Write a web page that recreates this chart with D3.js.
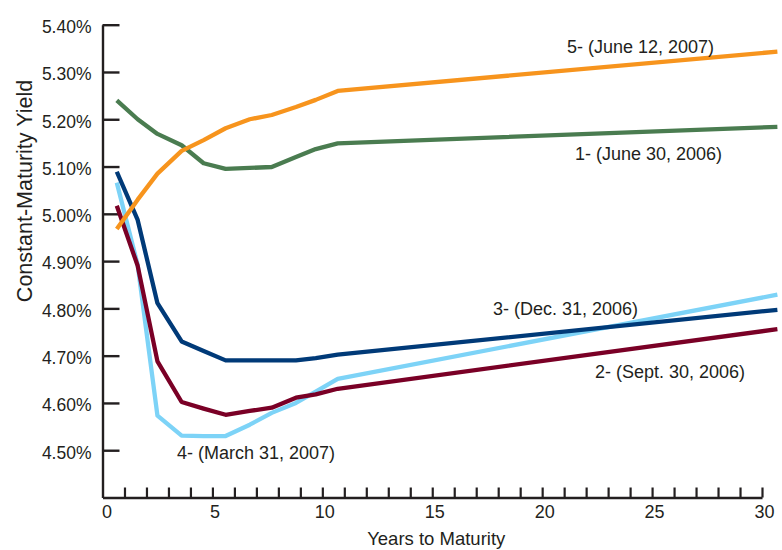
<!DOCTYPE html>
<html>
<head>
<meta charset="utf-8">
<script src="https://cdn.jsdelivr.net/npm/d3@7"></script>
<style>
  html, body { margin: 0; padding: 0; background: #ffffff; }
  svg { display: block; font-family: "Liberation Sans", Arial, sans-serif; }
</style>
</head>
<body>
<svg id="chart" width="782" height="550"></svg>
<script>
// ---- data ----
const maturities = [0.65, 1.6, 2.5, 3.6, 4.6, 5.6, 6.7, 7.7, 8.8, 9.7, 10.7, 30.7];

const june2006  = [5.240, 5.200, 5.169, 5.145, 5.107, 5.095, 5.097, 5.099, 5.120, 5.137, 5.149, 5.184];
const sept2006  = [5.017, 4.890, 4.688, 4.602, 4.588, 4.575, 4.583, 4.590, 4.611, 4.618, 4.630, 4.756];
const dec2006   = [5.089, 4.987, 4.811, 4.730, 4.710, 4.690, 4.690, 4.690, 4.690, 4.695, 4.702, 4.797];
const march2007 = [5.066, 4.892, 4.573, 4.531, 4.530, 4.530, 4.554, 4.579, 4.600, 4.624, 4.651, 4.829];
const june2007  = [4.968, 5.030, 5.085, 5.133, 5.156, 5.181, 5.200, 5.209, 5.226, 5.241, 5.260, 5.343];

const seriesNames = ["1- (June 30, 2006)", "2- (Sept. 30, 2006)", "3- (Dec. 31, 2006)", "4- (March 31, 2007)", "5- (June 12, 2007)"];

const yTickValues = [4.5, 4.6, 4.7, 4.8, 4.9, 5.0, 5.1, 5.2, 5.3, 5.4];
const xTickValues = d3.range(0, 31);
const xLabelValues = [0, 5, 10, 15, 20, 25, 30];

const xTitle = "Years to Maturity";
const yTitle = "Constant-Maturity Yield";

// ---- layout / style ----
const series = [
  { name: seriesNames[3], values: march2007, color: "#7dd3f7", lx: 177, ly: 459 },
  { name: seriesNames[1], values: sept2006,  color: "#7a0026", lx: 595, ly: 378 },
  { name: seriesNames[2], values: dec2006,   color: "#003a78", lx: 493, ly: 315 },
  { name: seriesNames[0], values: june2006,  color: "#4a7c50", lx: 575, ly: 160 },
  { name: seriesNames[4], values: june2007,  color: "#f7941d", lx: 567, ly: 53 }
];

const ink = "#231f20";
const svg = d3.select("#chart");

const x = d3.scaleLinear().domain([0, 30]).range([102.5, 762]);
const y = d3.scaleLinear().domain([4.4, 5.4]).range([497.5, 24.7]);

// Y axis (ticks pointing inward)
const yAxis = d3.axisLeft(y)
  .tickValues(yTickValues)
  .tickSizeInner(-17)
  .tickSizeOuter(0)
  .tickPadding(11)
  .tickFormat(d => d3.format(".2f")(d) + "%");

const gy = svg.append("g").attr("transform", `translate(${x(0)},0)`).call(yAxis);
gy.select(".domain").attr("stroke", ink).attr("stroke-width", 2.4);
gy.selectAll(".tick line").attr("stroke", ink).attr("stroke-width", 2.4);
gy.selectAll(".tick text")
  .attr("fill", ink)
  .attr("font-size", "17.5px")
  .attr("font-family", "Liberation Sans, Arial, sans-serif")
  .attr("dy", "0.45em");

// X axis (ticks pointing up)
const xAxis = d3.axisBottom(x)
  .tickValues(xTickValues)
  .tickSizeInner(-10)
  .tickSizeOuter(0)
  .tickPadding(8)
  .tickFormat(d => xLabelValues.includes(d) ? String(d) : "");

const gx = svg.append("g").attr("transform", `translate(0,${y(4.4)})`).call(xAxis);
gx.select(".domain").attr("stroke", ink).attr("stroke-width", 2.4);
gx.selectAll(".tick line").attr("stroke", ink).attr("stroke-width", 2.2);
gx.selectAll(".tick").filter(d => d === 0).select("line").remove();
gx.selectAll(".tick text")
  .attr("fill", ink)
  .attr("font-size", "18px")
  .attr("font-family", "Liberation Sans, Arial, sans-serif")
  .attr("dx", d => d === 0 ? 4 : 2);

// Axis titles
svg.append("text")
  .attr("x", (x(0) + x(30)) / 2 + 4)
  .attr("y", 545)
  .attr("text-anchor", "middle")
  .attr("font-size", "18.5px")
  .attr("fill", ink)
  .text(xTitle);

svg.append("text")
  .attr("transform", "translate(32,191) rotate(-90)")
  .attr("text-anchor", "middle")
  .attr("font-size", "21.5px")
  .attr("fill", ink)
  .text(yTitle);

// Lines
const line = d3.line()
  .x((d, i) => x(maturities[i]))
  .y(d => y(d));

svg.append("g").selectAll("path")
  .data(series)
  .join("path")
  .attr("d", s => line(s.values))
  .attr("fill", "none")
  .attr("stroke", s => s.color)
  .attr("stroke-width", 4.3)
  .attr("stroke-linejoin", "round")
  .attr("stroke-linecap", "butt");

// Series labels
svg.append("g").selectAll("text")
  .data(series)
  .join("text")
  .attr("x", s => s.lx)
  .attr("y", s => s.ly)
  .attr("font-size", "18px")
  .attr("fill", ink)
  .text(s => s.name);
</script>
</body>
</html>
